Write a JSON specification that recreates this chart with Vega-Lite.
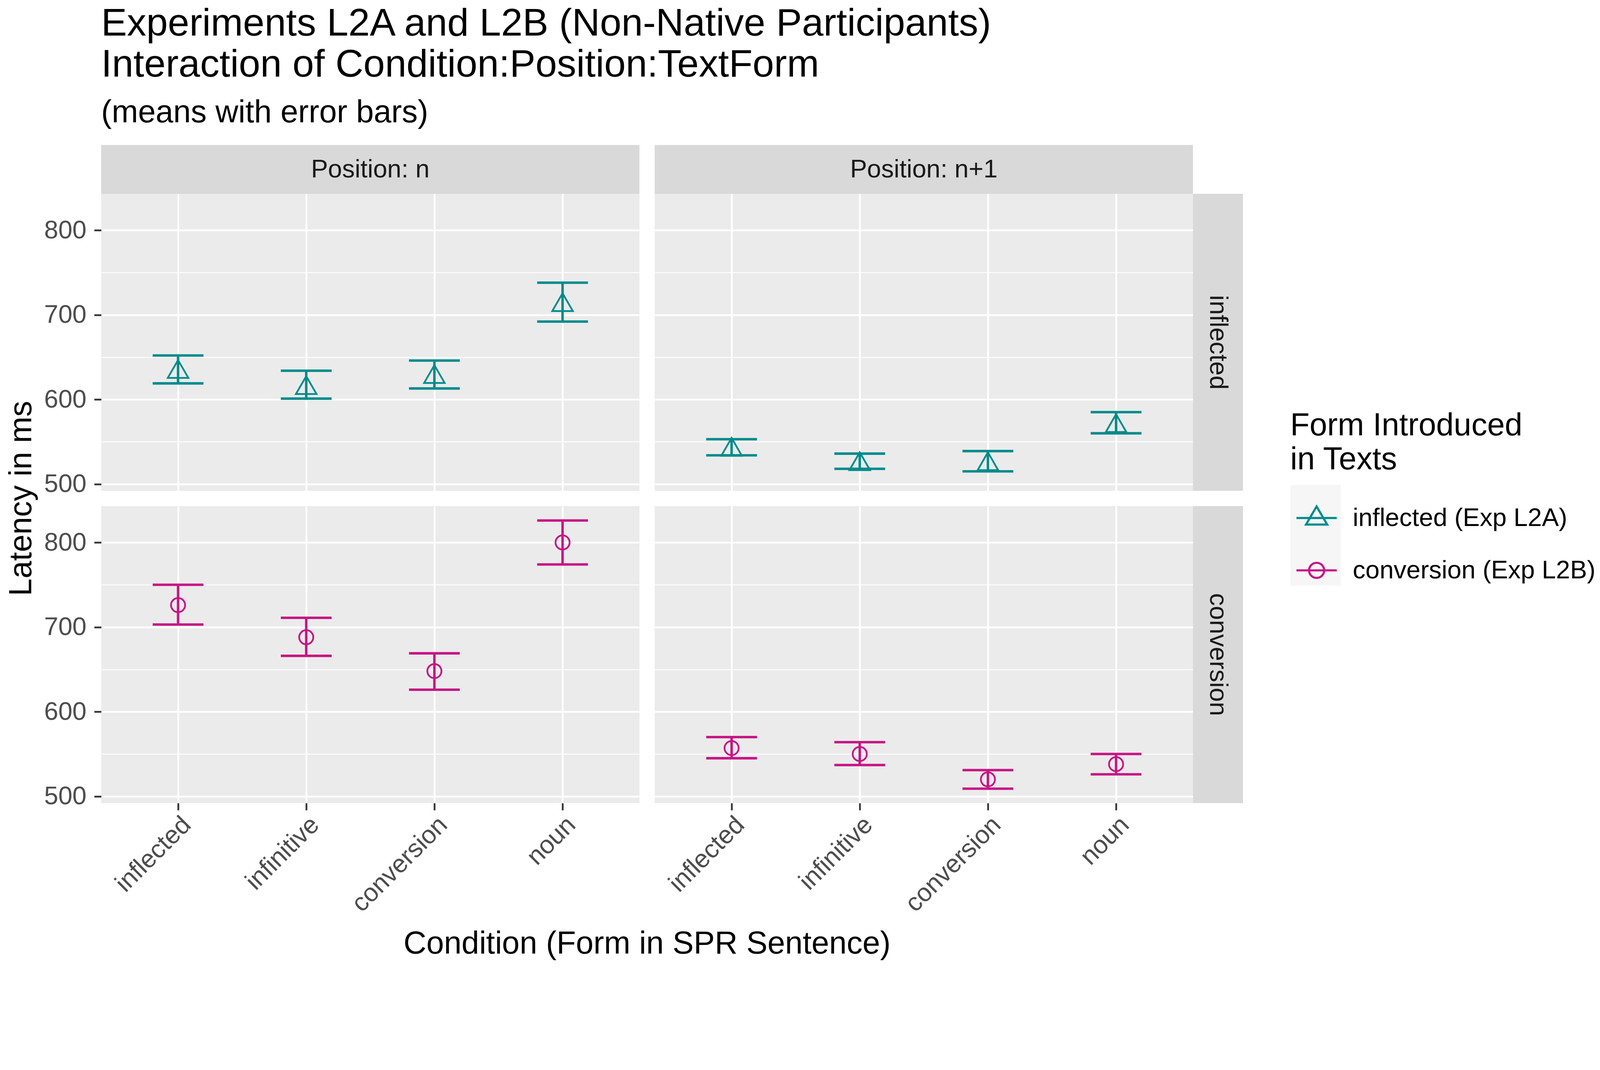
{
  "$schema": "https://vega.github.io/schema/vega-lite/v6.json",
  "background": "white",
  "padding": {"left": 13, "top": 12, "right": 5, "bottom": 5},
  "title": {
    "text": ["Experiments L2A and L2B (Non-Native Participants)", "Interaction of Condition:Position:TextForm"],
    "subtitle": "(means with error bars)",
    "anchor": "start",
    "frame": "group",
    "fontSize": 99,
    "fontWeight": "normal",
    "color": "black",
    "lineHeight": 105,
    "subtitleFontSize": 81,
    "subtitleColor": "black",
    "subtitlePadding": 32,
    "offset": 41
  },
  "datasets": {
    "means": [
      {"Position": "Position: n", "TextForm": "inflected", "Form": "inflected (Exp L2A)", "Condition": "inflected", "mean": 636, "lo": 619, "hi": 652},
      {"Position": "Position: n", "TextForm": "inflected", "Form": "inflected (Exp L2A)", "Condition": "infinitive", "mean": 617, "lo": 601, "hi": 634},
      {"Position": "Position: n", "TextForm": "inflected", "Form": "inflected (Exp L2A)", "Condition": "conversion", "mean": 630, "lo": 613, "hi": 646},
      {"Position": "Position: n", "TextForm": "inflected", "Form": "inflected (Exp L2A)", "Condition": "noun", "mean": 715, "lo": 692, "hi": 738},
      {"Position": "Position: n+1", "TextForm": "inflected", "Form": "inflected (Exp L2A)", "Condition": "inflected", "mean": 544, "lo": 534, "hi": 553},
      {"Position": "Position: n+1", "TextForm": "inflected", "Form": "inflected (Exp L2A)", "Condition": "infinitive", "mean": 527, "lo": 518, "hi": 536},
      {"Position": "Position: n+1", "TextForm": "inflected", "Form": "inflected (Exp L2A)", "Condition": "conversion", "mean": 527, "lo": 515, "hi": 539},
      {"Position": "Position: n+1", "TextForm": "inflected", "Form": "inflected (Exp L2A)", "Condition": "noun", "mean": 572, "lo": 560, "hi": 585},
      {"Position": "Position: n", "TextForm": "conversion", "Form": "conversion (Exp L2B)", "Condition": "inflected", "mean": 726, "lo": 703, "hi": 750},
      {"Position": "Position: n", "TextForm": "conversion", "Form": "conversion (Exp L2B)", "Condition": "infinitive", "mean": 688, "lo": 666, "hi": 711},
      {"Position": "Position: n", "TextForm": "conversion", "Form": "conversion (Exp L2B)", "Condition": "conversion", "mean": 648, "lo": 626, "hi": 669},
      {"Position": "Position: n", "TextForm": "conversion", "Form": "conversion (Exp L2B)", "Condition": "noun", "mean": 800, "lo": 774, "hi": 826},
      {"Position": "Position: n+1", "TextForm": "conversion", "Form": "conversion (Exp L2B)", "Condition": "inflected", "mean": 557, "lo": 545, "hi": 570},
      {"Position": "Position: n+1", "TextForm": "conversion", "Form": "conversion (Exp L2B)", "Condition": "infinitive", "mean": 550, "lo": 537, "hi": 564},
      {"Position": "Position: n+1", "TextForm": "conversion", "Form": "conversion (Exp L2B)", "Condition": "conversion", "mean": 520, "lo": 509, "hi": 531},
      {"Position": "Position: n+1", "TextForm": "conversion", "Form": "conversion (Exp L2B)", "Condition": "noun", "mean": 538, "lo": 526, "hi": 550}
    ],
    "blank": [{"label": ""}]
  },
  "config": {
    "font": "Liberation Sans",
    "view": {"stroke": null},
    "axis": {
      "domain": false,
      "grid": true,
      "gridColor": "white",
      "labelFontSize": 65,
      "labelColor": "#4D4D4D",
      "labelLimit": 2000,
      "tickSize": 18,
      "tickWidth": 4.5,
      "tickColor": "#333333",
      "titleFontSize": 81,
      "titleFontWeight": "normal",
      "titleColor": "black",
      "titleLimit": 3000
    },
    "axisY": {"labelPadding": 20},
    "axisX": {"labelPadding": 5},
    "legend": {
      "orient": "none",
      "legendX": 3044,
      "legendY": 679,
      "titleFontSize": 81,
      "titleFontWeight": "normal",
      "titleColor": "black",
      "titleLineHeight": 87,
      "titleLimit": 2000,
      "titlePadding": 40,
      "labelFontSize": 65,
      "labelColor": "black",
      "labelLimit": 2000,
      "labelOffset": 25,
      "symbolSize": 16656,
      "symbolOffset": 0,
      "symbolStrokeWidth": 5.4,
      "symbolFillColor": "transparent",
      "rowPadding": 0
    }
  },
  "bounds": "flush",
  "columns": 4,
  "spacing": 0,
  "concat": [
    {
      "width": 1378,
      "height": 125,
      "view": {"fill": "#D9D9D9"},
      "data": {"values": [{"Position": "Position: n"}]},
      "mark": {"type": "text", "fontSize": 65, "color": "#1A1A1A", "align": "center", "baseline": "middle"},
      "encoding": {"text": {"field": "Position"}}
    },
    {"width": 39, "height": 39, "data": {"name": "blank"}, "mark": "text", "encoding": {"text": {"field": "label"}}},
    {
      "width": 1378,
      "height": 125,
      "view": {"fill": "#D9D9D9"},
      "data": {"values": [{"Position": "Position: n+1"}]},
      "mark": {"type": "text", "fontSize": 65, "color": "#1A1A1A", "align": "center", "baseline": "middle"},
      "encoding": {"text": {"field": "Position"}}
    },
    {"width": 39, "height": 39, "data": {"name": "blank"}, "mark": "text", "encoding": {"text": {"field": "label"}}},
    {
      "width": 1378,
      "height": 760,
      "view": {"fill": "#EBEBEB"},
      "data": {"name": "means"},
      "transform": [{"filter": "datum.Position === 'Position: n' && datum.TextForm === 'inflected'"}],
      "encoding": {
        "x": {"field": "Condition", "type": "nominal", "scale": {"type": "point", "domain": ["inflected", "infinitive", "conversion", "noun"], "padding": 0.6}, "axis": {"title": null, "labels": false, "ticks": false, "gridWidth": 4.5}}
      },
      "layer": [
        {"transform": [{"filter": "false"}], "mark": {"type": "square", "filled": true},
          "encoding": {"fill": {"field": "Position", "type": "nominal", "scale": {"domain": ["Position: n"], "range": ["#F2F2F2"]},
            "legend": {"title": null, "orient": "none", "legendX": 2980, "legendY": 870, "zindex": 0, "symbolType": "M-0.5,-1L0.5,-1L0.5,1L-0.5,1Z", "symbolSize": 66564, "symbolStrokeWidth": 0, "symbolOffset": 0, "symbolFillColor": "#F2F2F2", "rowPadding": 0, "labelFontSize": 8, "labelOpacity": 0, "labelOffset": 0,
              "encode": {"symbols": {"update": {"shape": {"value": "M-0.5,-1L0.5,-1L0.5,1L-0.5,1Z"}, "fill": {"value": "#F2F2F2"}, "fillOpacity": {"value": 1}, "opacity": {"value": 1}, "strokeWidth": {"value": 0}}}}}}}},
        {"mark": {"type": "rule", "strokeWidth": 6.3}, "encoding": {
          "color": {"field": "Form", "type": "nominal", "scale": {"domain": ["inflected (Exp L2A)", "conversion (Exp L2B)"], "range": ["#008B8B", "#C71585"]},
            "legend": {"title": ["Form Introduced", "in Texts"], "zindex": 1,
              "encode": {"symbols": {"update": {"shape": {"signal": "datum.value === 'inflected (Exp L2A)' ? 'M-0.86,-0.86M0.86,0.86M-0.8,0L0.8,0M0,-0.46L0.42,0.26L-0.42,0.26Z' : 'M-0.86,-0.86M0.86,0.86M-0.8,0L0.8,0M0.3,0A0.3,0.3,0,1,1,-0.3,0A0.3,0.3,0,1,1,0.3,0'"}, "fillOpacity": {"value": 0}, "strokeWidth": {"value": 5.4}}}}}},
          "y": {"field": "lo", "type": "quantitative", "scale": {"domain": [492, 843], "nice": false, "zero": false},
          "axis": {"title": null, "values": [500, 550, 600, 650, 700, 750, 800], "labelExpr": "datum.value % 100 === 0 ? datum.label : ''", "tickOpacity": {"condition": {"test": "datum.value % 100 === 0", "value": 1}, "value": 0}, "gridWidth": {"condition": {"test": "datum.value % 100 === 0", "value": 4.5}, "value": 2.25}}}, "y2": {"field": "hi"}}},
        {"transform": [{"fold": ["lo", "hi"], "as": ["bound", "value"]}], "mark": {"type": "tick", "size": 130, "thickness": 6.3, "opacity": 1}, "encoding": {
          "color": {"field": "Form", "type": "nominal", "scale": {"domain": ["inflected (Exp L2A)", "conversion (Exp L2B)"], "range": ["#008B8B", "#C71585"]},
            "legend": {"title": ["Form Introduced", "in Texts"], "zindex": 1,
              "encode": {"symbols": {"update": {"shape": {"signal": "datum.value === 'inflected (Exp L2A)' ? 'M-0.86,-0.86M0.86,0.86M-0.8,0L0.8,0M0,-0.46L0.42,0.26L-0.42,0.26Z' : 'M-0.86,-0.86M0.86,0.86M-0.8,0L0.8,0M0.3,0A0.3,0.3,0,1,1,-0.3,0A0.3,0.3,0,1,1,0.3,0'"}, "fillOpacity": {"value": 0}, "strokeWidth": {"value": 5.4}}}}}},
          "y": {"field": "value", "type": "quantitative", "scale": {"domain": [492, 843], "nice": false, "zero": false},
          "axis": {"title": null, "values": [500, 550, 600, 650, 700, 750, 800], "labelExpr": "datum.value % 100 === 0 ? datum.label : ''", "tickOpacity": {"condition": {"test": "datum.value % 100 === 0", "value": 1}, "value": 0}, "gridWidth": {"condition": {"test": "datum.value % 100 === 0", "value": 4.5}, "value": 2.25}}}}},
        {"mark": {"type": "point", "shape": "triangle-up", "filled": false, "size": 2769, "strokeWidth": 4.5, "opacity": 1}, "encoding": {
          "color": {"field": "Form", "type": "nominal", "scale": {"domain": ["inflected (Exp L2A)", "conversion (Exp L2B)"], "range": ["#008B8B", "#C71585"]},
            "legend": {"title": ["Form Introduced", "in Texts"], "zindex": 1,
              "encode": {"symbols": {"update": {"shape": {"signal": "datum.value === 'inflected (Exp L2A)' ? 'M-0.86,-0.86M0.86,0.86M-0.8,0L0.8,0M0,-0.46L0.42,0.26L-0.42,0.26Z' : 'M-0.86,-0.86M0.86,0.86M-0.8,0L0.8,0M0.3,0A0.3,0.3,0,1,1,-0.3,0A0.3,0.3,0,1,1,0.3,0'"}, "fillOpacity": {"value": 0}, "strokeWidth": {"value": 5.4}}}}}},
          "y": {"field": "mean", "type": "quantitative", "scale": {"domain": [492, 843], "nice": false, "zero": false},
          "axis": {"title": null, "values": [500, 550, 600, 650, 700, 750, 800], "labelExpr": "datum.value % 100 === 0 ? datum.label : ''", "tickOpacity": {"condition": {"test": "datum.value % 100 === 0", "value": 1}, "value": 0}, "gridWidth": {"condition": {"test": "datum.value % 100 === 0", "value": 4.5}, "value": 2.25}}}}}
      ]
    },
    {"width": 39, "height": 39, "data": {"name": "blank"}, "mark": "text", "encoding": {"text": {"field": "label"}}},
    {
      "width": 1378,
      "height": 760,
      "view": {"fill": "#EBEBEB"},
      "data": {"name": "means"},
      "transform": [{"filter": "datum.Position === 'Position: n+1' && datum.TextForm === 'inflected'"}],
      "encoding": {
        "x": {"field": "Condition", "type": "nominal", "scale": {"type": "point", "domain": ["inflected", "infinitive", "conversion", "noun"], "padding": 0.6}, "axis": {"title": null, "labels": false, "ticks": false, "gridWidth": 4.5}},
        "color": {"field": "Form", "type": "nominal", "scale": {"domain": ["inflected (Exp L2A)", "conversion (Exp L2B)"], "range": ["#008B8B", "#C71585"]},
          "legend": {"title": ["Form Introduced", "in Texts"], "zindex": 1,
            "encode": {"symbols": {"update": {"shape": {"signal": "datum.value === 'inflected (Exp L2A)' ? 'M-0.86,-0.86M0.86,0.86M-0.8,0L0.8,0M0,-0.46L0.42,0.26L-0.42,0.26Z' : 'M-0.86,-0.86M0.86,0.86M-0.8,0L0.8,0M0.3,0A0.3,0.3,0,1,1,-0.3,0A0.3,0.3,0,1,1,0.3,0'"}, "fillOpacity": {"value": 0}, "strokeWidth": {"value": 5.4}}}}}}
      },
      "layer": [
        {"mark": {"type": "rule", "strokeWidth": 6.3}, "encoding": {"y": {"field": "lo", "type": "quantitative", "scale": {"domain": [492, 843], "nice": false, "zero": false},
          "axis": {"title": null, "labels": false, "ticks": false, "values": [500, 550, 600, 650, 700, 750, 800], "gridWidth": {"condition": {"test": "datum.value % 100 === 0", "value": 4.5}, "value": 2.25}}}, "y2": {"field": "hi"}}},
        {"transform": [{"fold": ["lo", "hi"], "as": ["bound", "value"]}], "mark": {"type": "tick", "size": 130, "thickness": 6.3, "opacity": 1}, "encoding": {"y": {"field": "value", "type": "quantitative", "scale": {"domain": [492, 843], "nice": false, "zero": false},
          "axis": {"title": null, "labels": false, "ticks": false, "values": [500, 550, 600, 650, 700, 750, 800], "gridWidth": {"condition": {"test": "datum.value % 100 === 0", "value": 4.5}, "value": 2.25}}}}},
        {"mark": {"type": "point", "shape": "triangle-up", "filled": false, "size": 2769, "strokeWidth": 4.5, "opacity": 1}, "encoding": {"y": {"field": "mean", "type": "quantitative", "scale": {"domain": [492, 843], "nice": false, "zero": false},
          "axis": {"title": null, "labels": false, "ticks": false, "values": [500, 550, 600, 650, 700, 750, 800], "gridWidth": {"condition": {"test": "datum.value % 100 === 0", "value": 4.5}, "value": 2.25}}}}}
      ]
    },
    {
      "width": 128,
      "height": 760,
      "view": {"fill": "#D9D9D9"},
      "data": {"values": [{"TextForm": "inflected"}]},
      "mark": {"type": "text", "fontSize": 65, "color": "#1A1A1A", "angle": 90, "align": "center", "baseline": "middle"},
      "encoding": {"text": {"field": "TextForm"}}
    },
    {"width": 39, "height": 39, "data": {"name": "blank"}, "mark": "text", "encoding": {"text": {"field": "label"}}},
    {"width": 39, "height": 39, "data": {"name": "blank"}, "mark": "text", "encoding": {"text": {"field": "label"}}},
    {"width": 39, "height": 39, "data": {"name": "blank"}, "mark": "text", "encoding": {"text": {"field": "label"}}},
    {"width": 39, "height": 39, "data": {"name": "blank"}, "mark": "text", "encoding": {"text": {"field": "label"}}},
    {
      "width": 1378,
      "height": 760,
      "view": {"fill": "#EBEBEB"},
      "data": {"name": "means"},
      "transform": [{"filter": "datum.Position === 'Position: n' && datum.TextForm === 'conversion'"}],
      "encoding": {
        "x": {"field": "Condition", "type": "nominal", "scale": {"type": "point", "domain": ["inflected", "infinitive", "conversion", "noun"], "padding": 0.6},
          "axis": {"title": "Condition (Form in SPR Sentence)", "titleX": 1397, "titleY": 384, "titleBaseline": "alphabetic", "labelAngle": -45, "labelAlign": "right", "labelBaseline": "top", "gridWidth": 4.5}},
        "color": {"field": "Form", "type": "nominal", "scale": {"domain": ["inflected (Exp L2A)", "conversion (Exp L2B)"], "range": ["#008B8B", "#C71585"]},
          "legend": {"title": ["Form Introduced", "in Texts"], "zindex": 1,
            "encode": {"symbols": {"update": {"shape": {"signal": "datum.value === 'inflected (Exp L2A)' ? 'M-0.86,-0.86M0.86,0.86M-0.8,0L0.8,0M0,-0.46L0.42,0.26L-0.42,0.26Z' : 'M-0.86,-0.86M0.86,0.86M-0.8,0L0.8,0M0.3,0A0.3,0.3,0,1,1,-0.3,0A0.3,0.3,0,1,1,0.3,0'"}, "fillOpacity": {"value": 0}, "strokeWidth": {"value": 5.4}}}}}}
      },
      "layer": [
        {"mark": {"type": "rule", "strokeWidth": 6.3}, "encoding": {"y": {"field": "lo", "type": "quantitative", "scale": {"domain": [492, 843], "nice": false, "zero": false},
          "axis": {"title": "Latency in ms", "titleX": -180, "titleY": -20, "titleBaseline": "alphabetic", "values": [500, 550, 600, 650, 700, 750, 800], "labelExpr": "datum.value % 100 === 0 ? datum.label : ''", "tickOpacity": {"condition": {"test": "datum.value % 100 === 0", "value": 1}, "value": 0}, "gridWidth": {"condition": {"test": "datum.value % 100 === 0", "value": 4.5}, "value": 2.25}}}, "y2": {"field": "hi"}}},
        {"transform": [{"fold": ["lo", "hi"], "as": ["bound", "value"]}], "mark": {"type": "tick", "size": 130, "thickness": 6.3, "opacity": 1}, "encoding": {"y": {"field": "value", "type": "quantitative", "scale": {"domain": [492, 843], "nice": false, "zero": false},
          "axis": {"title": "Latency in ms", "titleX": -180, "titleY": -20, "titleBaseline": "alphabetic", "values": [500, 550, 600, 650, 700, 750, 800], "labelExpr": "datum.value % 100 === 0 ? datum.label : ''", "tickOpacity": {"condition": {"test": "datum.value % 100 === 0", "value": 1}, "value": 0}, "gridWidth": {"condition": {"test": "datum.value % 100 === 0", "value": 4.5}, "value": 2.25}}}}},
        {"mark": {"type": "point", "shape": "circle", "filled": false, "size": 1303, "strokeWidth": 4.5, "opacity": 1}, "encoding": {"y": {"field": "mean", "type": "quantitative", "scale": {"domain": [492, 843], "nice": false, "zero": false},
          "axis": {"title": "Latency in ms", "titleX": -180, "titleY": -20, "titleBaseline": "alphabetic", "values": [500, 550, 600, 650, 700, 750, 800], "labelExpr": "datum.value % 100 === 0 ? datum.label : ''", "tickOpacity": {"condition": {"test": "datum.value % 100 === 0", "value": 1}, "value": 0}, "gridWidth": {"condition": {"test": "datum.value % 100 === 0", "value": 4.5}, "value": 2.25}}}}}
      ]
    },
    {"width": 39, "height": 39, "data": {"name": "blank"}, "mark": "text", "encoding": {"text": {"field": "label"}}},
    {
      "width": 1378,
      "height": 760,
      "view": {"fill": "#EBEBEB"},
      "data": {"name": "means"},
      "transform": [{"filter": "datum.Position === 'Position: n+1' && datum.TextForm === 'conversion'"}],
      "encoding": {
        "x": {"field": "Condition", "type": "nominal", "scale": {"type": "point", "domain": ["inflected", "infinitive", "conversion", "noun"], "padding": 0.6}, "axis": {"title": null, "labelAngle": -45, "labelAlign": "right", "labelBaseline": "top", "gridWidth": 4.5}},
        "color": {"field": "Form", "type": "nominal", "scale": {"domain": ["inflected (Exp L2A)", "conversion (Exp L2B)"], "range": ["#008B8B", "#C71585"]},
          "legend": {"title": ["Form Introduced", "in Texts"], "zindex": 1,
            "encode": {"symbols": {"update": {"shape": {"signal": "datum.value === 'inflected (Exp L2A)' ? 'M-0.86,-0.86M0.86,0.86M-0.8,0L0.8,0M0,-0.46L0.42,0.26L-0.42,0.26Z' : 'M-0.86,-0.86M0.86,0.86M-0.8,0L0.8,0M0.3,0A0.3,0.3,0,1,1,-0.3,0A0.3,0.3,0,1,1,0.3,0'"}, "fillOpacity": {"value": 0}, "strokeWidth": {"value": 5.4}}}}}}
      },
      "layer": [
        {"mark": {"type": "rule", "strokeWidth": 6.3}, "encoding": {"y": {"field": "lo", "type": "quantitative", "scale": {"domain": [492, 843], "nice": false, "zero": false},
          "axis": {"title": null, "labels": false, "ticks": false, "values": [500, 550, 600, 650, 700, 750, 800], "gridWidth": {"condition": {"test": "datum.value % 100 === 0", "value": 4.5}, "value": 2.25}}}, "y2": {"field": "hi"}}},
        {"transform": [{"fold": ["lo", "hi"], "as": ["bound", "value"]}], "mark": {"type": "tick", "size": 130, "thickness": 6.3, "opacity": 1}, "encoding": {"y": {"field": "value", "type": "quantitative", "scale": {"domain": [492, 843], "nice": false, "zero": false},
          "axis": {"title": null, "labels": false, "ticks": false, "values": [500, 550, 600, 650, 700, 750, 800], "gridWidth": {"condition": {"test": "datum.value % 100 === 0", "value": 4.5}, "value": 2.25}}}}},
        {"mark": {"type": "point", "shape": "circle", "filled": false, "size": 1303, "strokeWidth": 4.5, "opacity": 1}, "encoding": {"y": {"field": "mean", "type": "quantitative", "scale": {"domain": [492, 843], "nice": false, "zero": false},
          "axis": {"title": null, "labels": false, "ticks": false, "values": [500, 550, 600, 650, 700, 750, 800], "gridWidth": {"condition": {"test": "datum.value % 100 === 0", "value": 4.5}, "value": 2.25}}}}}
      ]
    },
    {
      "width": 128,
      "height": 760,
      "view": {"fill": "#D9D9D9"},
      "data": {"values": [{"TextForm": "conversion"}]},
      "mark": {"type": "text", "fontSize": 65, "color": "#1A1A1A", "angle": 90, "align": "center", "baseline": "middle"},
      "encoding": {"text": {"field": "TextForm"}}
    }
  ]
}
